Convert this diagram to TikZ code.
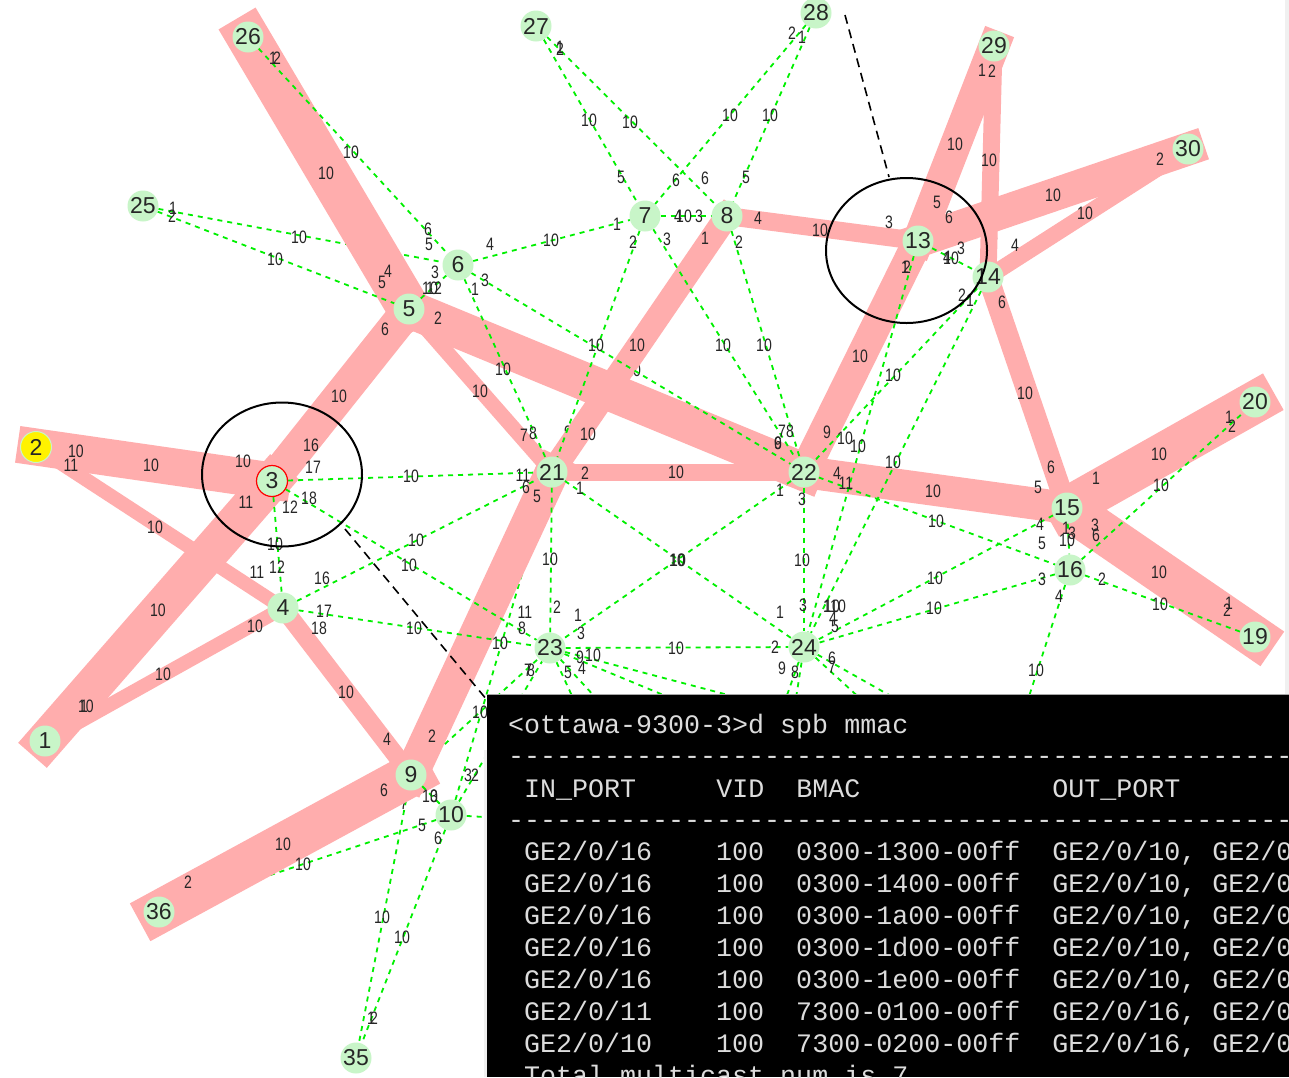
\documentclass[tikz,border=0pt]{standalone}
\usepackage{fontspec}
\setmainfont{Liberation Sans}
\newfontfamily\lblfont[FakeStretch=0.78]{Liberation Sans}
\newfontfamily\termfont{Liberation Mono}
\usetikzlibrary{shapes.geometric}
\pgfdeclarelayer{under}\pgfdeclarelayer{pink}\pgfdeclarelayer{over}\pgfdeclarelayer{top}
\pgfsetlayers{under,pink,over,main,top}
\definecolor{pinkband}{HTML}{FFADAD}
\definecolor{nodegreen}{HTML}{C8F5C8}
\definecolor{dashgreen}{HTML}{00F000}
\definecolor{termtext}{HTML}{DCDCDC}
\tikzset{
  sw/.style={circle,fill=nodegreen,minimum size=31pt,inner sep=0pt,font=\fontsize{23}{25}\selectfont,text=black!85},
  pinkband/.style={draw=pinkband,line cap=rect},
  glink/.style={draw=dashgreen,line width=1.8pt,dash pattern=on 5pt off 5pt},
  lbl/.style={inner sep=0pt,font=\lblfont\fontsize{18}{20}\selectfont,text=black!85},
  callout/.style={draw=black,line width=2pt,ellipse,inner sep=0pt},
  leader/.style={draw=black,line width=1.6pt,dash pattern=on 9pt off 6pt},
  termline/.style={anchor=base west,inner sep=0pt,text=termtext,font=\termfont\fontsize{26.67}{30}\selectfont},
}
\begin{document}
\begin{tikzpicture}[x=1pt,y=-1pt]
\useasboundingbox (0,0) rectangle (1289,1077);
% switches
\foreach \n/\x/\y in {1/45/741,3/272/481,4/283/608,5/409/309,6/458/265,7/645/216,8/727/216,9/411/775,10/451/815,13/918/241,14/988/277,15/1067/508,16/1070/570,19/1255/637,20/1255/402,21/552/472,22/804/472,23/550/648,24/804/647,25/143/206,26/248/37,27/536/26,28/816/13,29/994/46,30/1188/149,35/356/1058,36/159/912}
  {\ifnum\n=3
     \node[sw,draw=red,line width=1.2pt] (n\n) at (\x,\y) {\n};
   \else
     \node[sw] (n\n) at (\x,\y) {\n};
   \fi}
\node[sw,fill=yellow,draw=nodegreen,line width=1pt] (n2) at (36,447) {2};
% free ends of links that run under the terminal
\coordinate (e1) at (880,735);
\coordinate (e2) at (760,735);
\coordinate (e3) at (590,735);
\coordinate (e4) at (630,735);
\coordinate (e5) at (750,800);
\coordinate (e6) at (780,800);
\coordinate (e7) at (900,735);
\coordinate (e8) at (960,735);
\coordinate (e9) at (1010,755);
\coordinate (e10) at (700,830);
% links hidden by the thick bands
\begin{pgfonlayer}{under}
  \fill[white] (0,0) rectangle (1289,1077);
  \fill[black!6] (1285,0) rectangle (1289,1077);
  \foreach \a/\b in {25/6,10/36,10/21,9/23,10/23,9/35}
    \draw[glink] (n\a) -- (n\b);
  \foreach \x/\y/\t [count=\i] in {633/370/10,568/432/9,994/236/3,404/803/7}
    \node[lbl] (hl\i) at (\x,\y) {\t};
\end{pgfonlayer}
% thick bands
\begin{pgfonlayer}{pink}
  \foreach \a/\b/\w in {1/3/38,3/5/33,2/3/37,2/4/14,1/4/14,4/9/18,9/21/34,5/22/38,5/21/15,8/21/24,8/13/18,21/22/17,22/13/30,13/29/31,29/14/17,13/30/33,14/30/16,14/15/21,22/15/32,15/20/42,15/19/42,9/36/43,5/26/43}
    \draw[pinkband,line width=\w pt] (n\a.center) -- (n\b.center);
\end{pgfonlayer}
% dashed links
\begin{pgfonlayer}{over}
  \foreach \a/\b in {26/6,25/5,5/6,6/21,6/7,6/22,7/8,27/7,27/8,28/7,28/8,7/22,8/22,7/21,3/4,3/21,3/23,4/21,4/23,21/24,22/23,21/23,22/24,23/24,13/24,14/22,14/24,13/14,22/16,15/24,16/24,15/16,16/19,16/20,9/10,10/35}
    \draw[glink] (n\a) -- (n\b);
  \foreach \a/\b in {23/e1,23/e2,23/e3,23/e4,24/e5,24/e6,24/e7,24/e8,16/e9,10/e10}
    \draw[glink] (n\a) -- (\b);
\end{pgfonlayer}
% port and cost labels
\foreach \x/\y/\t [count=\i] in {
 273/58/1,277/58/2,351/152/10,326/173/10,428/229/6,429/244/5,490/244/4,435/272/3,388/271/4,382/282/5,430/288/10,434/288/12,475/289/1,485/280/3,385/329/6,438/318/2,
 173/208/1,172/216/2,299/237/10,275/259/10,551/240/10,617/224/1,503/369/10,480/391/10,524/435/7,533/433/8,
 560/47/1,560/49/2,589/120/10,630/122/10,621/177/5,676/180/6,705/178/6,746/177/5,792/33/2,802/37/1,730/115/10,770/115/10,
 678/216/4,684/216/10,699/216/3,633/242/2,667/239/3,705/238/1,739/242/2,758/218/4,820/230/10,889/222/3,
 596/345/10,637/345/10,723/345/10,764/345/10,588/434/10,782/431/7,790/431/8,778/443/6,778/443/9,
 339/396/10,311/445/16,313/467/17,309/498/18,290/507/12,246/502/11,243/461/10,151/465/10,76/451/10,71/465/11,155/527/10,158/610/10,84/706/1,86/706/10,163/674/10,255/626/10,257/572/11,277/567/12,275/544/10,322/578/16,324/611/17,319/628/18,416/540/10,409/565/10,414/628/10,411/476/10,346/692/10,387/739/4,432/736/2,384/790/6,283/844/10,188/882/2,303/864/10,
 523/475/11,526/487/6,537/496/5,585/473/2,580/488/1,676/472/10,550/559/10,677/560/10,678/560/10,525/612/11,522/628/8,500/643/10,557/607/2,578/615/1,581/633/3,580/657/9,593/655/10,582/668/4,568/672/5,528/670/7,531/670/8,676/648/10,775/647/2,780/612/1,803/605/3,780/490/1,802/499/3,802/560/10,
 827/606/1,832/606/10,838/606/10,833/618/4,835/626/5,832/658/6,832/667/7,782/668/9,795/672/8,
 837/473/4,846/483/11,827/432/9,845/438/10,858/446/10,860/356/10,893/375/10,893/462/10,933/491/10,936/521/10,935/578/10,934/608/10,
 937/202/5,949/217/6,982/70/1,992/71/2,955/144/10,989/160/10,1053/195/10,1085/213/10,1160/159/2,1015/245/4,961/248/3,951/258/10,947/257/4,905/267/1,907/267/2,962/295/2,970/300/1,1002/302/6,1025/393/10,
 1051/467/6,1038/487/5,1096/478/1,1159/454/10,1161/485/10,1229/417/1,1232/426/2,1040/524/4,1042/543/5,1042/579/3,1066/528/1,1072/533/3,1067/540/10,1095/525/3,1096/535/6,1159/572/10,1160/604/10,1102/579/2,1229/603/1,1227/610/2,1059/596/4,1036/670/10,
 468/775/3,475/775/2,480/712/10,430/796/10,434/796/3,422/825/5,438/838/6,382/917/10,402/937/10,371/1018/1,374/1018/2}
  \node[lbl] (pl\i) at (\x,\y) {\t};
% callouts
\node[callout,minimum width=160pt,minimum height=144pt] (cthree) at (282,474.5) {};
\node[callout,minimum width=161pt,minimum height=145pt] (cthirteen) at (906.5,250.5) {};
\coordinate (la) at (345,529);
\coordinate (lb) at (487,700);
\coordinate (lc) at (845,15);
\coordinate (ld) at (889,177);
\draw[leader] (la) -- (lb);
\draw[leader] (lc) -- (ld);
% terminal
\begin{pgfonlayer}{top}
  \fill[black!6] (484,750) rectangle (487,1077);
  \draw[black!35,line width=1pt] (487,694.5) -- (1289,694.5);
  \node[fill=black,anchor=north west,minimum width=802pt,minimum height=382pt,inner sep=0pt] (term) at (487,695) {};
  \begin{scope}
    \clip (487,695) rectangle (1289,1077);
    \node[termline] (t0) at (508,733) {<ottawa-9300-3>d spb mmac};
    \node[termline] (t1) at (508,764) {-------------------------------------------------};
    \node[termline] (t2) at (508,797) {~IN\_PORT~~~~~VID~~BMAC~~~~~~~~~~~~OUT\_PORT};
    \node[termline] (t3) at (508,828) {-------------------------------------------------};
    \node[termline] (t4) at (508,860) {~GE2/0/16~~~~100~~0300-1300-00ff~~GE2/0/10,~GE2/0};
    \node[termline] (t5) at (508,892) {~GE2/0/16~~~~100~~0300-1400-00ff~~GE2/0/10,~GE2/0};
    \node[termline] (t6) at (508,924) {~GE2/0/16~~~~100~~0300-1a00-00ff~~GE2/0/10,~GE2/0};
    \node[termline] (t7) at (508,956) {~GE2/0/16~~~~100~~0300-1d00-00ff~~GE2/0/10,~GE2/0};
    \node[termline] (t8) at (508,988) {~GE2/0/16~~~~100~~0300-1e00-00ff~~GE2/0/10,~GE2/0};
    \node[termline] (t9) at (508,1020) {~GE2/0/11~~~~100~~7300-0100-00ff~~GE2/0/16,~GE2/0};
    \node[termline] (t10) at (508,1052) {~GE2/0/10~~~~100~~7300-0200-00ff~~GE2/0/16,~GE2/0};
    \node[termline] (t11) at (508,1084) {~Total~multicast~num~is~7};
  \end{scope}
\end{pgfonlayer}
\end{tikzpicture}
\end{document}
